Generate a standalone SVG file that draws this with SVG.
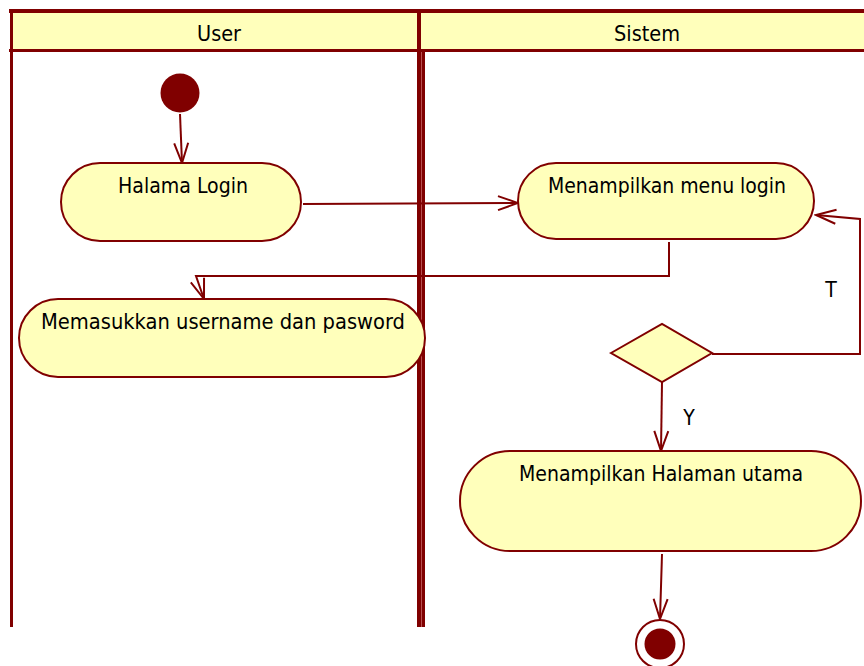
<svg xmlns="http://www.w3.org/2000/svg" width="864" height="666" viewBox="0 0 864 666">
  <style>
    .lane { fill: #800000; }
    .hdr { fill: #FFFFBB; }
    .act { fill: #FFFFBB; stroke: #800000; stroke-width: 2; }
    .txt { font-family: "DejaVu Sans Condensed", "DejaVu Sans", "Liberation Sans", sans-serif; font-stretch: condensed; font-size: 21px; fill: #000000; }
    .edge { fill: none; stroke: #800000; stroke-width: 2; }
  </style>
  <defs>
    <marker id="arr" markerUnits="userSpaceOnUse" markerWidth="24" markerHeight="18" viewBox="-22 -9 24 18" refX="0" refY="0" orient="auto">
      <path d="M-20,-7 L0,0 L-20,7" fill="none" stroke="#800000" stroke-width="2"/>
    </marker>
  </defs>
  <rect width="864" height="666" fill="#FFFFFF"/>

  <g id="swimlanes">
    <rect class="hdr" x="13" y="13" width="851" height="36"/>
    <rect class="lane" x="9" y="9" width="855" height="4"/>
    <rect class="lane" x="9" y="49" width="855" height="3"/>
    <rect class="lane" x="10" y="9" width="3" height="618"/>
    <rect x="421" y="52" width="1" height="575" fill="#B85050"/>
    <rect class="lane" x="417" y="9" width="4" height="618"/>
    <rect class="lane" x="422" y="52" width="3" height="575"/>
    <text class="txt" x="219" y="41" text-anchor="middle" textLength="44" lengthAdjust="spacingAndGlyphs">User</text>
    <text class="txt" x="647" y="41" text-anchor="middle" textLength="66" lengthAdjust="spacingAndGlyphs">Sistem</text>
  </g>

  <g id="connectors">
    <path class="edge" d="M180,114 L182,163" marker-end="url(#arr)"/>
    <path class="edge" d="M303,204 L518,203" marker-end="url(#arr)"/>
    <path class="edge" d="M669,242 V276 H196 L204,299" marker-end="url(#arr)"/>
    <path class="edge" d="M712,354 H860 V219 L816,215" marker-end="url(#arr)"/>
    <path class="edge" d="M662,382 L661,451" marker-end="url(#arr)"/>
    <path class="edge" d="M662,554 L660,619" marker-end="url(#arr)"/>
    <text class="txt" x="831" y="297" text-anchor="middle">T</text>
    <text class="txt" x="689" y="425" text-anchor="middle">Y</text>
  </g>

  <g id="start">
    <circle cx="180" cy="93" r="19.5" fill="#800000"/>
  </g>

  <g id="halama-login">
    <rect class="act" x="61" y="163" width="240" height="78" rx="39" ry="39"/>
    <text class="txt" x="183" y="193" text-anchor="middle" textLength="130" lengthAdjust="spacingAndGlyphs">Halama Login</text>
  </g>

  <g id="menampilkan-menu-login">
    <rect class="act" x="518" y="163" width="296" height="76" rx="38" ry="38"/>
    <text class="txt" x="667" y="193" text-anchor="middle" textLength="238" lengthAdjust="spacingAndGlyphs">Menampilkan menu login</text>
  </g>

  <g id="memasukkan">
    <rect class="act" x="19" y="299" width="406" height="78" rx="39" ry="39"/>
    <text class="txt" x="223" y="329" text-anchor="middle" textLength="364" lengthAdjust="spacingAndGlyphs">Memasukkan username dan pasword</text>
  </g>

  <g id="decision">
    <polygon class="act" points="611,353 662,324 712,353 662,382"/>
  </g>

  <g id="menampilkan-halaman-utama">
    <rect class="act" x="460" y="451" width="401" height="100" rx="50" ry="50"/>
    <text class="txt" x="661" y="481" text-anchor="middle" textLength="284" lengthAdjust="spacingAndGlyphs">Menampilkan Halaman utama</text>
  </g>

  <g id="end">
    <circle cx="660" cy="644" r="24" fill="#FFFFFF" stroke="#800000" stroke-width="2"/>
    <circle cx="660" cy="644" r="15.5" fill="#800000"/>
  </g>
</svg>
